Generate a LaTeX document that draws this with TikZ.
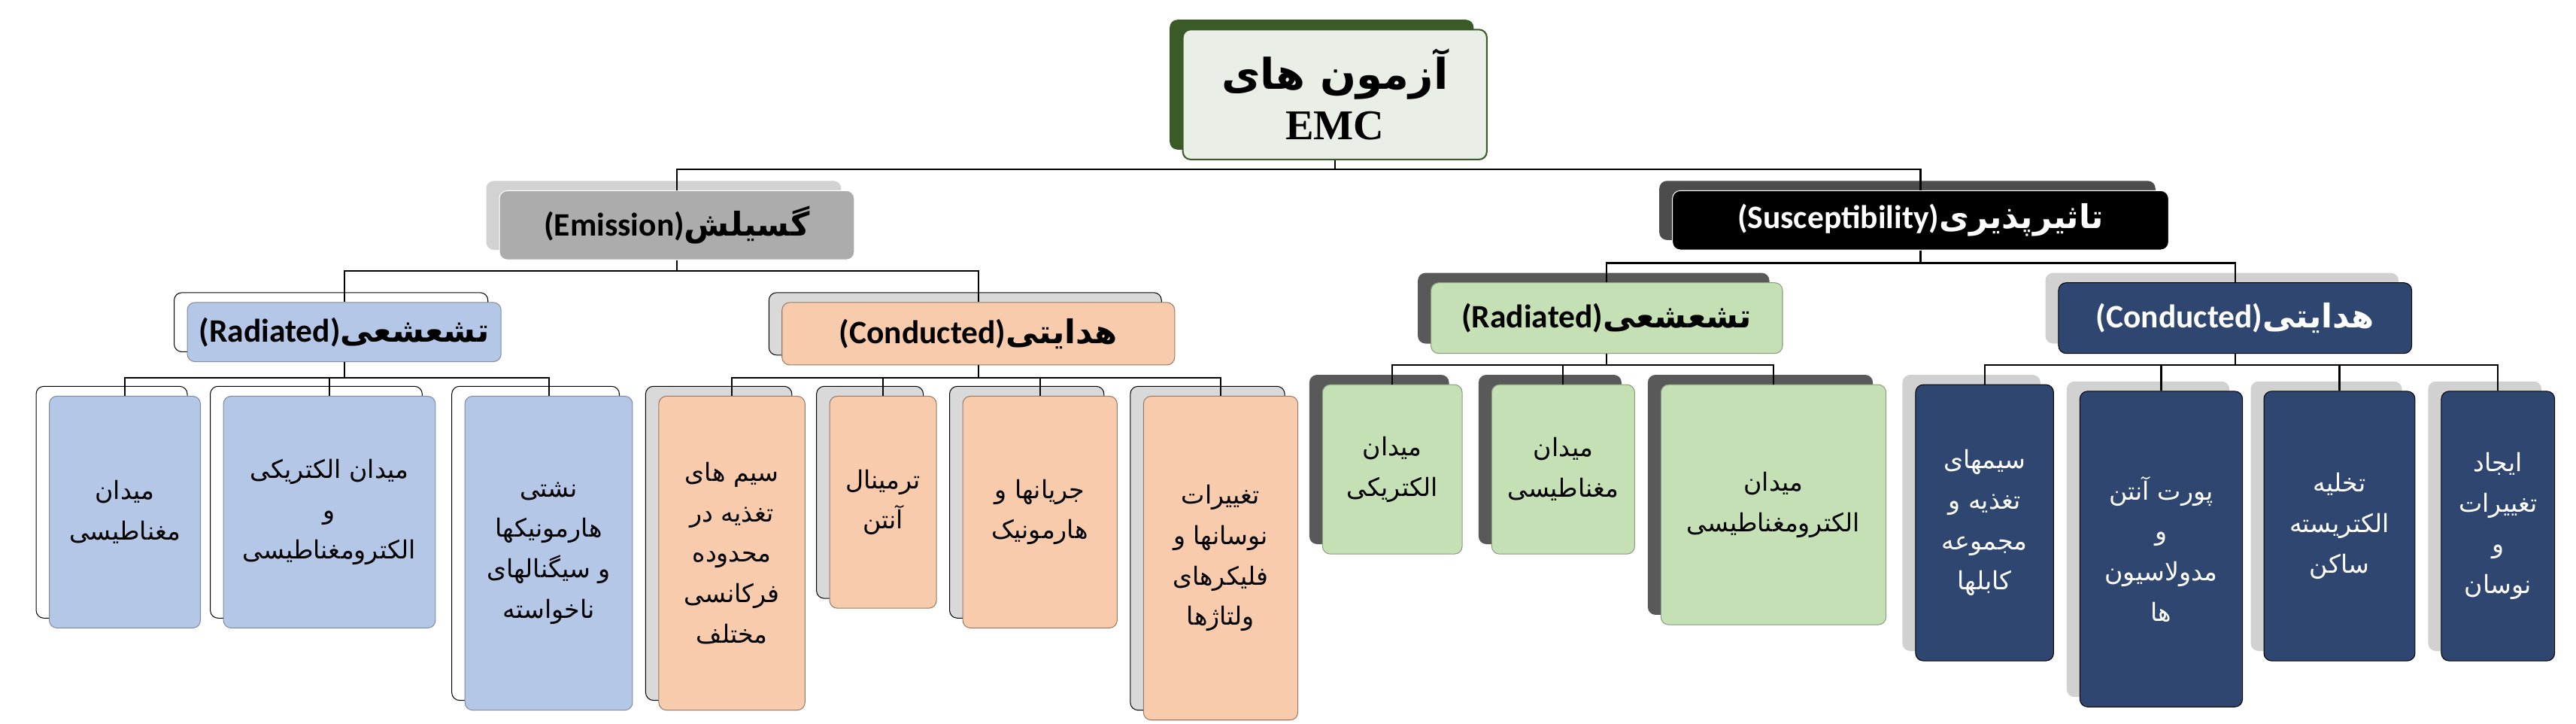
\documentclass[tikz,border=0pt]{standalone}
\usepackage{fontspec}
\setmainfont{Carlito}
\newfontfamily\fa[Script=Arabic]{DejaVu Sans}
\TeXXeTstate=1
\newcommand\fr[1]{{\fa\beginR #1\endR}}
\definecolor{rtg}{HTML}{3A5A27}
\definecolor{rtf}{HTML}{E9EFE6}
\definecolor{blu}{HTML}{B4C7E7}
\definecolor{pch}{HTML}{F8CBAD}
\definecolor{grn}{HTML}{C5E0B4}
\definecolor{nvy}{HTML}{2F4670}
\newcommand\bx[7]{%
 \path[#6sh] (#2,#3) rectangle (#4-8,#5-6);
 \node[#6fr,minimum width={(#4-#2-8)*0.03cm},minimum height={(#5-#3-6)*0.03cm}] (#1) at ({(#2+#4+8)/2},{(#3+#5+6)/2}) {#7};}
\newcommand\hdr[2]{\bfseries\fontsize{17}{20}\selectfont #1\fr{#2}}
\begin{document}
\begin{tikzpicture}[x=0.03cm,y=-0.03cm,
 base/.style={rounded corners=4pt,align=center,inner sep=2pt,font=\fontsize{13}{21}\selectfont},
 rootsh/.style={fill=rtg,rounded corners=4pt}, rootfr/.style={base,fill=rtf,draw=rtg,thick,font=\fontsize{22}{28}\selectfont\bfseries},
 emsh/.style={fill=gray!35,rounded corners=4pt}, emfr/.style={base,fill=gray!65,draw=white},
 sush/.style={fill=black!70,rounded corners=4pt}, sufr/.style={base,fill=black,draw=white,text=white},
 blush/.style={fill=white,draw=black,rounded corners=4pt}, blufr/.style={base,fill=blu,draw=blu!70!black},
 pchsh/.style={fill=black!15,draw=black,rounded corners=4pt}, pchfr/.style={base,fill=pch,draw=pch!60!black},
 grnsh/.style={fill=black!65,rounded corners=4pt}, grnfr/.style={base,fill=grn,draw=grn!70!black},
 nvysh/.style={fill=black!18,rounded corners=4pt}, nvyfr/.style={base,fill=nvy,draw=black,text=white},
 ln/.style={draw=black,line width=0.8pt}]
\useasboundingbox (0,0) rectangle (1568,440);
\bx{root}{712}{12}{905}{97}{root}{\fr{آزمون های}\\[-2pt]{\fontspec{Liberation Serif}\bfseries EMC}}
\bx{em}{296}{110}{520}{158}{em}{\hdr{(Emission)}{گسیلش}}
\bx{su}{1010}{110}{1320}{152}{su}{\hdr{(Susceptibility)}{تاثیرپذیری}}
\bx{er}{106}{178}{305}{220}{blu}{\hdr{(Radiated)}{تشعشعی}}
\bx{ec}{468}{178}{715}{222}{pch}{\hdr{(Conducted)}{هدایتی}}
\bx{sr}{863}{166}{1085}{215}{grn}{\hdr{(Radiated)}{تشعشعی}}
\bx{sc}{1245}{166}{1468}{215}{nvy}{\hdr{(Conducted)}{هدایتی}}
% emission radiated leaves
\bx{l1}{22}{235}{122}{382}{blu}{\fr{میدان}\\\fr{مغناطیسی}}
\bx{l2}{128}{235}{265}{382}{blu}{\fr{میدان الکتریکی}\\\fr{و}\\\fr{الکترومغناطیسی}}
\bx{l3}{275}{235}{385}{432}{blu}{\fr{نشتی}\\\fr{هارمونیکها}\\\fr{و سیگنالهای}\\\fr{ناخواسته}}
% emission conducted leaves
\bx{l4}{393}{235}{490}{432}{pch}{\fr{سیم های}\\\fr{تغذیه در}\\\fr{محدوده}\\\fr{فرکانسی}\\\fr{مختلف}}
\bx{l5}{497}{235}{570}{370}{pch}{\fr{ترمینال}\\\fr{آنتن}}
\bx{l6}{578}{235}{680}{382}{pch}{\fr{جریانها و}\\\fr{هارمونیک}}
\bx{l7}{688}{235}{790}{438}{pch}{\fr{تغییرات}\\\fr{نوسانها و}\\\fr{فلیکرهای}\\\fr{ولتاژها}}
% susceptibility radiated leaves
\bx{l8}{797}{228}{890}{337}{grn}{\fr{میدان}\\\fr{الکتریکی}}
\bx{l9}{900}{228}{995}{337}{grn}{\fr{میدان}\\\fr{مغناطیسی}}
\bx{l10}{1003}{228}{1148}{380}{grn}{\fr{میدان}\\\fr{الکترومغناطیسی}}
% susceptibility conducted leaves
\bx{l11}{1158}{228}{1250}{402}{nvy}{\fr{سیمهای}\\\fr{تغذیه و}\\\fr{مجموعه}\\\fr{کابلها}}
\bx{l12}{1258}{232}{1365}{430}{nvy}{\fr{پورت آنتن}\\\fr{و}\\\fr{مدولاسیون}\\\fr{ها}}
\bx{l13}{1370}{232}{1470}{402}{nvy}{\fr{تخلیه}\\\fr{الکتریسته}\\\fr{ساکن}}
\bx{l14}{1478}{232}{1555}{402}{nvy}{\fr{ایجاد}\\\fr{تغییرات}\\\fr{و}\\\fr{نوسان}}
% buses
\coordinate (b0) at (0,103);
\coordinate (b1) at (0,165);
\coordinate (b2) at (0,160);
\coordinate (b3) at (0,230);
\coordinate (b4) at (0,222);
\foreach \c in {em,su} \draw[ln] (root.south) -- (root.south |- b0) -| (\c.north);
\foreach \c in {er,ec} \draw[ln] (em.south) -- (em.south |- b1) -| (\c.north);
\foreach \c in {sr,sc} \draw[ln] (su.south) -- (su.south |- b2) -| (\c.north);
\foreach \c in {l1,l2,l3} \draw[ln] (er.south) -- (er.south |- b3) -| (\c.north);
\foreach \c in {l4,l5,l6,l7} \draw[ln] (ec.south) -- (ec.south |- b3) -| (\c.north);
\foreach \c in {l8,l9,l10} \draw[ln] (sr.south) -- (sr.south |- b4) -| (\c.north);
\foreach \c in {l11,l12,l13,l14} \draw[ln] (sc.south) -- (sc.south |- b4) -| (\c.north);
\end{tikzpicture}
\end{document}
